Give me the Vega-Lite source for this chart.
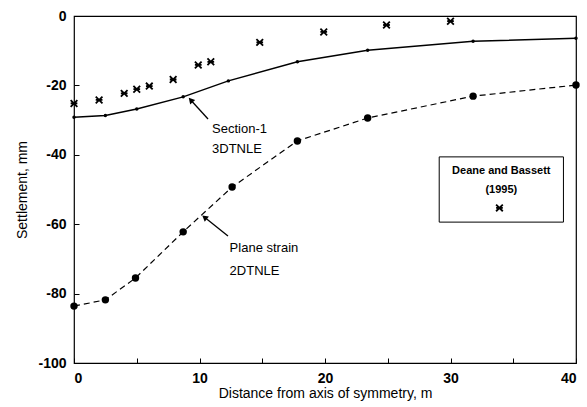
{
  "$schema": "https://vega.github.io/schema/vega-lite/v6.json",
  "width": 502,
  "height": 347,
  "autosize": {"type": "none"},
  "padding": {"left": 74, "top": 16, "right": 11, "bottom": 44},
  "background": "white",
  "config": {
    "view": {"stroke": "black", "strokeWidth": 1.2},
    "font": "Liberation Sans",
    "axis": {"grid": false, "domain": false, "tickColor": "black", "labelColor": "black", "titleColor": "black", "labelFont": "Liberation Sans", "titleFont": "Liberation Sans"}
  },
  "datasets": {
    "section": [
      {"x": 0, "y": -29.2}, {"x": 2.5, "y": -28.7}, {"x": 5.0, "y": -26.8}, {"x": 8.7, "y": -23.3},
      {"x": 12.3, "y": -18.7}, {"x": 17.8, "y": -13.2}, {"x": 23.4, "y": -9.9}, {"x": 31.8, "y": -7.3}, {"x": 40, "y": -6.4}
    ],
    "plane": [
      {"x": 0, "y": -83.6}, {"x": 2.5, "y": -81.8}, {"x": 4.9, "y": -75.5}, {"x": 8.7, "y": -62.2},
      {"x": 12.6, "y": -49.3}, {"x": 17.8, "y": -36.0}, {"x": 23.4, "y": -29.4}, {"x": 31.8, "y": -23.1}, {"x": 40, "y": -19.9}
    ],
    "deane": [
      {"x": 0, "y": -25.2}, {"x": 2.0, "y": -24.2}, {"x": 4.0, "y": -22.3}, {"x": 5.0, "y": -21.1},
      {"x": 6.0, "y": -20.2}, {"x": 7.9, "y": -18.3}, {"x": 9.9, "y": -14.1}, {"x": 10.9, "y": -13.2},
      {"x": 14.8, "y": -7.6}, {"x": 19.9, "y": -4.6}, {"x": 24.9, "y": -2.6}, {"x": 30.0, "y": -1.5}
    ],
    "labels": [
      {"x": 11.0, "y": -32.5, "text": "Section-1"},
      {"x": 11.0, "y": -38.3, "text": "3DTNLE"},
      {"x": 12.4, "y": -67.0, "text": "Plane strain"},
      {"x": 12.4, "y": -73.6, "text": "2DTNLE"}
    ],
    "arrows": [
      {"x": 10.68, "y": -29.7, "x2": 9.3, "y2": -24.2, "angle": 318},
      {"x": 12.27, "y": -63.4, "x2": 10.4, "y2": -58.0, "angle": 308}
    ],
    "legendbox": [{"x": 29.1, "x2": 39.0, "y": -40.6, "y2": -59.4}],
    "legendtext": [
      {"x": 34.05, "y": -44.8, "text": "Deane and Bassett"},
      {"x": 34.05, "y": -50.2, "text": "(1995)"}
    ],
    "legendsym": [{"x": 33.9, "y": -55.3}]
  },
  "layer": [
    {
      "data": {"name": "section"},
      "mark": {"type": "line", "color": "black", "strokeWidth": 1.5, "point": {"filled": true, "color": "black", "size": 12}},
      "encoding": {
        "x": {"field": "x", "type": "quantitative", "scale": {"domain": [0, 40], "nice": false},
          "axis": {"values": [0, 5, 10, 15, 20, 25, 30, 35, 40], "labelExpr": "datum.value % 10 == 0 ? datum.label : ''",
            "tickSize": -5, "labelPadding": 13, "labelFontSize": 14, "labelFontWeight": "bold", "title": "Distance from axis of symmetry, m", "titleFontSize": 14, "titleFontWeight": "normal", "titlePadding": 1}},
        "y": {"field": "y", "type": "quantitative", "scale": {"domain": [-100, 0], "nice": false},
          "axis": {"values": [0, -10, -20, -30, -40, -50, -60, -70, -80, -90, -100], "labelExpr": "datum.value % 20 == 0 ? replace(datum.label, '\u2212', '-') : ''",
            "tickSize": -5, "labelPadding": 13, "labelFontSize": 14, "labelFontWeight": "bold", "title": "Settlement, mm", "titleFontSize": 14, "titleFontWeight": "normal", "titlePadding": 8}}
      }
    },
    {
      "data": {"name": "plane"},
      "mark": {"type": "line", "color": "black", "strokeWidth": 1.2, "strokeDash": [6, 4]},
      "encoding": {"x": {"field": "x", "type": "quantitative"}, "y": {"field": "y", "type": "quantitative"}}
    },
    {
      "data": {"name": "plane"},
      "mark": {"type": "point", "filled": true, "color": "black", "shape": "circle", "size": 55, "opacity": 1},
      "encoding": {"x": {"field": "x", "type": "quantitative"}, "y": {"field": "y", "type": "quantitative"}}
    },
    {
      "data": {"name": "deane"},
      "mark": {"type": "point", "filled": false, "color": "black", "strokeWidth": 1.8, "size": 45, "opacity": 1,
        "shape": "M-1,-1L1,1M1,-1L-1,1M-1,0L1,0"},
      "encoding": {"x": {"field": "x", "type": "quantitative"}, "y": {"field": "y", "type": "quantitative"}}
    },
    {
      "data": {"name": "legendsym"},
      "mark": {"type": "point", "filled": false, "color": "black", "strokeWidth": 1.8, "size": 45, "opacity": 1,
        "shape": "M-1,-1L1,1M1,-1L-1,1M-1,0L1,0"},
      "encoding": {"x": {"field": "x", "type": "quantitative"}, "y": {"field": "y", "type": "quantitative"}}
    },
    {
      "data": {"name": "legendbox"},
      "mark": {"type": "rect", "fill": null, "fillOpacity": 0, "stroke": "black", "strokeWidth": 1},
      "encoding": {"x": {"field": "x", "type": "quantitative"}, "x2": {"field": "x2"}, "y": {"field": "y", "type": "quantitative"}, "y2": {"field": "y2"}}
    },
    {
      "data": {"name": "legendtext"},
      "mark": {"type": "text", "font": "Liberation Sans", "fontSize": 11, "fontWeight": "bold", "color": "black", "align": "center", "baseline": "middle"},
      "encoding": {"x": {"field": "x", "type": "quantitative"}, "y": {"field": "y", "type": "quantitative"}, "text": {"field": "text"}}
    },
    {
      "data": {"name": "labels"},
      "mark": {"type": "text", "font": "Liberation Sans", "fontSize": 13, "color": "black", "align": "left", "baseline": "middle"},
      "encoding": {"x": {"field": "x", "type": "quantitative"}, "y": {"field": "y", "type": "quantitative"}, "text": {"field": "text"}}
    },
    {
      "data": {"name": "arrows"},
      "mark": {"type": "rule", "color": "black", "strokeWidth": 1.3},
      "encoding": {"x": {"field": "x", "type": "quantitative"}, "y": {"field": "y", "type": "quantitative"}, "x2": {"field": "x2"}, "y2": {"field": "y2"}}
    },
    {
      "data": {"name": "arrows"},
      "mark": {"type": "point", "shape": "triangle-up", "filled": true, "color": "black", "size": 45, "opacity": 1},
      "encoding": {"x": {"field": "x2", "type": "quantitative"}, "y": {"field": "y2", "type": "quantitative"}, "angle": {"field": "angle", "type": "quantitative", "scale": null}}
    }
  ]
}
